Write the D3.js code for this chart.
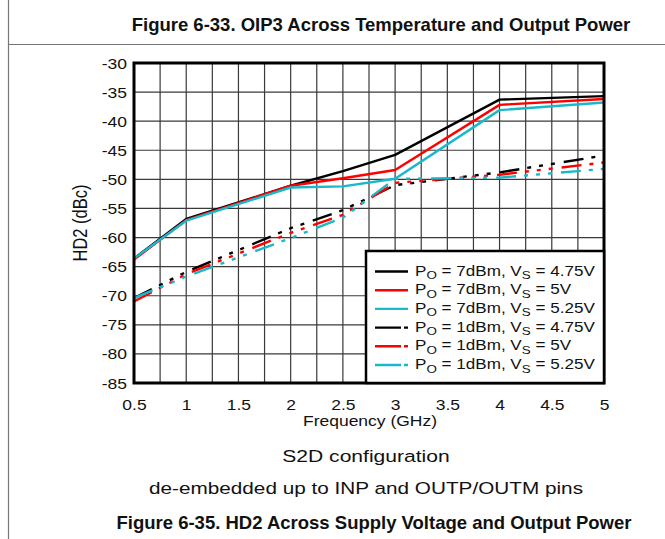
<!DOCTYPE html>
<html>
<head>
<meta charset="utf-8">
<script src="https://cdn.jsdelivr.net/npm/d3@7"></script>
<style>
  html, body { margin: 0; padding: 0; background: #fff; }
  svg { display: block; font-family: "Liberation Sans", Arial, sans-serif; }
</style>
</head>
<body>
<svg id="chart" width="665" height="539"></svg>
<script>
// Frequency points (GHz)
const freqs = [0.5, 1, 2, 2.5, 3, 4, 5];

// HD2 (dBc) per supply voltage, PO = 7 dBm (solid)
const hd2_7dBm_475 = [-63.6, -56.8, -51.1, -48.6, -45.8, -36.3, -35.7];
const hd2_7dBm_500 = [-63.8, -57.0, -51.1, -49.8, -48.4, -37.2, -36.2];
const hd2_7dBm_525 = [-63.6, -57.1, -51.4, -51.2, -49.9, -38.1, -36.8];

// HD2 (dBc) per supply voltage, PO = 1 dBm (dashed)
const hd2_1dBm_475 = [-70.4, -65.9, -58.4, -55.3, -51.0, -48.8, -45.9];
const hd2_1dBm_500 = [-71.0, -66.3, -59.2, -56.1, -50.6, -49.2, -47.1];
const hd2_1dBm_525 = [-70.4, -66.7, -60.1, -56.6, -49.9, -49.7, -48.2];

const xTicks = [0.5, 1, 1.5, 2, 2.5, 3, 3.5, 4, 4.5, 5];
const yTicks = [-30, -35, -40, -45, -50, -55, -60, -65, -70, -75, -80, -85];

const seriesNames = [
  { po: "7dBm", vs: "4.75V" },
  { po: "7dBm", vs: "5V" },
  { po: "7dBm", vs: "5.25V" },
  { po: "1dBm", vs: "4.75V" },
  { po: "1dBm", vs: "5V" },
  { po: "1dBm", vs: "5.25V" }
];
const seriesValues = [hd2_7dBm_475, hd2_7dBm_500, hd2_7dBm_525,
                      hd2_1dBm_475, hd2_1dBm_500, hd2_1dBm_525];
const seriesColors = ["#000000", "#ff0000", "#19b8cb", "#000000", "#ff0000", "#19b8cb"];
const seriesDashed = [false, false, false, true, true, true];

// The figure artwork is set in a horizontally widened face
const SX = 1.25;
function widen(sel, sx) {
  sel.each(function () {
    const t = d3.select(this);
    const tx = +t.attr("x") || 0, ty = +t.attr("y") || 0;
    t.attr("x", 0).attr("y", 0)
      .attr("transform", `translate(${tx},${ty}) scale(${sx},1)`);
  });
}

const svg = d3.select("#chart");

// Page frame: left rule and the rule under the top caption
svg.append("line").attr("x1", 8.5).attr("x2", 8.5).attr("y1", 0).attr("y2", 539)
  .attr("stroke", "#777").attr("stroke-width", 1.2);
svg.append("line").attr("x1", 8).attr("x2", 665).attr("y1", 44.5).attr("y2", 44.5)
  .attr("stroke", "#777").attr("stroke-width", 1.2);

svg.append("text").attr("x", 381).attr("y", 31).attr("text-anchor", "middle")
  .attr("font-size", 18.5).attr("font-weight", "bold").attr("fill", "#111")
  .text("Figure 6-33. OIP3 Across Temperature and Output Power");

const pLeft = 134, pRight = 604, pTop = 63, pBottom = 383;
const x = d3.scaleLinear().domain([0.5, 5]).range([pLeft, pRight]);
const y = d3.scaleLinear().domain([-85, -30]).range([pBottom, pTop]);

// Grid: every 0.25 GHz, every 5 dB
const gx = d3.range(0.5, 5.001, 0.25);
svg.append("g").selectAll("line").data(gx).join("line")
  .attr("x1", d => x(d)).attr("x2", d => x(d)).attr("y1", pTop).attr("y2", pBottom)
  .attr("stroke", "#3a3a3a").attr("stroke-width", 1.2);
svg.append("g").selectAll("line").data(yTicks).join("line")
  .attr("x1", pLeft).attr("x2", pRight).attr("y1", d => y(d)).attr("y2", d => y(d))
  .attr("stroke", "#3a3a3a").attr("stroke-width", 1.2);

// Axes (labels only; the frame is drawn separately)
const xAxis = svg.append("g").attr("transform", `translate(0,${pBottom})`)
  .call(d3.axisBottom(x).tickValues(xTicks).tickSize(0).tickPadding(0).tickFormat(d3.format("")));
const yAxis = svg.append("g").attr("transform", `translate(${pLeft},0)`)
  .call(d3.axisLeft(y).tickValues(yTicks).tickSize(0).tickPadding(7).tickFormat(d => d));
[xAxis, yAxis].forEach(a => {
  a.select(".domain").remove();
  a.selectAll("text").attr("font-size", 14).attr("fill", "#111")
    .attr("font-family", "Liberation Sans, Arial, sans-serif");
});
xAxis.selectAll("text").attr("dy", null).attr("y", 27);
yAxis.selectAll("text").attr("dy", null).attr("y", 5);
widen(xAxis.selectAll("text"), SX);
widen(yAxis.selectAll("text"), SX);

const xTitle = svg.append("text").attr("x", 370).attr("y", 426).attr("text-anchor", "middle")
  .attr("font-size", 14).attr("fill", "#111").text("Frequency (GHz)");
widen(xTitle, SX);
svg.append("text")
  .attr("transform", `translate(87,${(pTop + pBottom) / 2}) scale(${SX},1) rotate(-90)`)
  .attr("text-anchor", "middle").attr("font-size", 16.5).attr("fill", "#111").text("HD2 (dBc)");

// Series lines
const line = d3.line().x((d, i) => x(freqs[i])).y(d => y(d));
const dashPattern = "20,8,4,8,4,8,4,9";
const plot = svg.append("g");
plot.append("clipPath").attr("id", "clip").append("rect")
  .attr("x", pLeft).attr("y", pTop).attr("width", pRight - pLeft).attr("height", pBottom - pTop);
const order = [3, 4, 5, 0, 1, 2];
order.forEach(k => {
  plot.append("path").datum(seriesValues[k])
    .attr("clip-path", "url(#clip)")
    .attr("d", line).attr("fill", "none")
    .attr("stroke", seriesColors[k]).attr("stroke-width", 2.4)
    .attr("stroke-linejoin", "round")
    .attr("stroke-dasharray", seriesDashed[k] ? dashPattern : null);
});

// Plot frame
svg.append("rect").attr("x", pLeft).attr("y", pTop).attr("width", pRight - pLeft).attr("height", pBottom - pTop)
  .attr("fill", "none").attr("stroke", "#000").attr("stroke-width", 3);

// Legend
const lg = svg.append("g");
lg.append("rect").attr("x", 366).attr("y", 251).attr("width", pRight - 366).attr("height", pBottom - 251)
  .attr("fill", "#fff").attr("stroke", "#000").attr("stroke-width", 2.5);
seriesNames.forEach((s, i) => {
  const yy = 271.5 + i * 18.7;
  lg.append("line").attr("x1", 375).attr("x2", 408).attr("y1", yy).attr("y2", yy)
    .attr("stroke", seriesColors[i]).attr("stroke-width", 2.4)
    .attr("stroke-dasharray", seriesDashed[i] ? "26,3,5" : null);
  const t = lg.append("text").attr("x", 415).attr("y", yy + 4).attr("font-size", 14).attr("fill", "#111");
  t.append("tspan").text("P");
  t.append("tspan").attr("font-size", 11).attr("dy", 3.5).text("O");
  t.append("tspan").attr("dy", -3.5).text(` = ${s.po}, V`);
  t.append("tspan").attr("font-size", 11).attr("dy", 3.5).text("S");
  t.append("tspan").attr("dy", -3.5).text(` = ${s.vs}`);
  widen(t, 1.22);
});

// Captions
const c1 = svg.append("text").attr("x", 366).attr("y", 462).attr("text-anchor", "middle")
  .attr("font-size", 17).attr("fill", "#111").text("S2D configuration");
const c2 = svg.append("text").attr("x", 366).attr("y", 494).attr("text-anchor", "middle")
  .attr("font-size", 17).attr("fill", "#111").text("de-embedded up to INP and OUTP/OUTM pins");
widen(c1, 1.24);
widen(c2, 1.22);
svg.append("text").attr("x", 374).attr("y", 529).attr("text-anchor", "middle")
  .attr("font-size", 18.5).attr("font-weight", "bold").attr("fill", "#111")
  .text("Figure 6-35. HD2 Across Supply Voltage and Output Power");
</script>
</body>
</html>
